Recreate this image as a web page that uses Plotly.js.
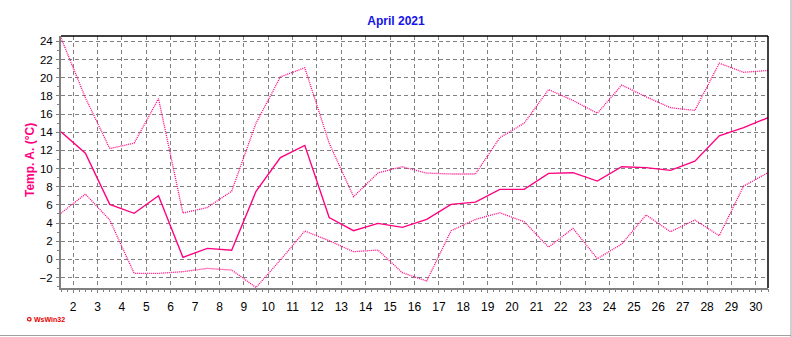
<!DOCTYPE html>
<html>
<head>
<meta charset="utf-8">
<script src="https://cdn.plot.ly/plotly-3.0.1.min.js"></script>
<style>
html,body{margin:0;padding:0;background:#fff;}
#chart{width:792px;height:337px;}
</style>
</head>
<body>
<div id="chart"></div>
<script>
// Days of April 2021 and daily temperatures (°C)
const days = [1,2,3,4,5,6,7,8,9,10,11,12,13,14,15,16,17,18,19,20,21,22,23,24,25,26,27,28,29,30];
const maxT = [24.4,17.8,12.2,12.8,17.7,5.1,5.7,7.5,15.0,20.1,21.1,12.8,6.9,9.5,10.2,9.5,9.4,9.4,13.4,15.0,18.7,17.5,16.1,19.2,17.9,16.7,16.4,21.6,20.6,20.8];
const meanT = [14.05,11.7,6.05,5.07,7.0,0.22,1.2,1.0,7.5,11.2,12.55,4.6,3.15,3.96,3.52,4.4,6.05,6.3,7.7,7.7,9.47,9.54,8.62,10.2,10.1,9.8,10.8,13.6,14.5,15.6];
const minT = [5.07,7.19,4.33,-1.55,-1.55,-1.36,-1.0,-1.18,-3.1,-0.08,3.12,2.05,0.84,1.02,-1.47,-2.39,3.15,4.4,5.13,4.14,1.34,3.41,0.07,1.68,4.88,3.04,4.33,2.6,8.07,9.54];
const xTickVals = [2,3,4,5,6,7,8,9,10,11,12,13,14,15,16,17,18,19,20,21,22,23,24,25,26,27,28,29,30];
const xTickText = xTickVals.map(String);
const yTickVals = [-2,0,2,4,6,8,10,12,14,16,18,20,22,24];

const lineColor = 'rgb(255,0,128)';
const xRange = [1.5, 30.5];
const yRange = [-3.16, 24.6];
// each day's value is drawn in the middle of its day slot
const xs = days.map(d => d + 0.5);

const traces = [
  {x: xs, y: maxT, mode: 'lines', line: {color: lineColor, width: 1.3, dash: '1px,1px'}, hoverinfo: 'skip'},
  {x: xs, y: minT, mode: 'lines', line: {color: lineColor, width: 1.3, dash: '1px,1px'}, hoverinfo: 'skip'},
  {x: xs, y: meanT, mode: 'lines', line: {color: lineColor, width: 1.4}, hoverinfo: 'skip'},
  // invisible trace carrying the minor-tick overlay axes
  {x: [xRange[0]], y: [yRange[0]], xaxis: 'x2', yaxis: 'y2', mode: 'markers', marker: {opacity: 0}, hoverinfo: 'skip'}
];

const layout = {
  width: 792, height: 337,
  margin: {l: 61, r: 24, t: 36, b: 49},
  paper_bgcolor: '#fff', plot_bgcolor: '#fff',
  showlegend: false,
  font: {family: 'Liberation Sans, Arial, sans-serif', size: 11, color: '#000'},
  title: {
    text: '<b>April 2021</b>',
    font: {family: 'Liberation Sans, Arial, sans-serif', size: 12, color: 'rgb(20,20,230)'},
    x: 0.5, xref: 'container', xanchor: 'center',
    y: 1 - 21/337, yref: 'container', yanchor: 'middle'
  },
  xaxis: {
    range: xRange, tickmode: 'array', tickvals: xTickVals, ticktext: xTickText,
    showgrid: true, gridcolor: '#808080', gridwidth: 1, griddash: '4px,3px',
    zeroline: false, showline: true, linecolor: '#808080', linewidth: 2,
    ticks: 'outside', ticklen: 3, tickcolor: '#808080', tickwidth: 1,
    tickfont: {size: 12},
    ticklabelstandoff: 4,
    fixedrange: true
  },
  yaxis: {
    range: yRange, tickmode: 'array', tickvals: yTickVals,
    showgrid: true, gridcolor: '#808080', gridwidth: 1, griddash: '4px,3px',
    zeroline: false, showline: true, linecolor: '#808080', linewidth: 2,
    ticks: 'outside', ticklen: 3, tickcolor: '#808080', tickwidth: 1,
    tickfont: {size: 11.5},
    ticklabelstandoff: 1,
    fixedrange: true
  },
  xaxis2: {
    overlaying: 'x', anchor: 'y2', side: 'bottom', range: xRange,
    tickmode: 'linear', tick0: 1.5, dtick: 0.25,
    ticks: 'outside', ticklen: 3, tickcolor: '#808080', tickwidth: 1,
    showticklabels: false, showgrid: false, zeroline: false, showline: false, fixedrange: true
  },
  yaxis2: {
    overlaying: 'y', anchor: 'x2', side: 'left', range: yRange,
    tickmode: 'linear', tick0: 0, dtick: 1,
    ticks: 'outside', ticklen: 3, tickcolor: '#808080', tickwidth: 1,
    showticklabels: false, showgrid: false, zeroline: false, showline: false, fixedrange: true
  },
  shapes: [
    {type: 'line', xref: 'paper', yref: 'paper', x0: 0, x1: 1, y0: 1, y1: 1, line: {color: '#000', width: 1.5}},
    {type: 'line', xref: 'paper', yref: 'paper', x0: 1, x1: 1, y0: 0, y1: 1, line: {color: '#000', width: 1.5}},
    {type: 'line', xref: 'paper', yref: 'paper', x0: -61/707, x1: 730/707, y0: -47.5/252, y1: -47.5/252, line: {color: '#a0a0a0', width: 1}},
    {type: 'line', xref: 'paper', yref: 'paper', x0: 730/707, x1: 730/707, y0: -49/252, y1: 36/252 + 1, line: {color: '#a0a0a0', width: 1}},
    {type: 'circle', xref: 'paper', yref: 'paper', x0: -33.5/707, x1: -30/707, y0: -29.5/252, y1: -33/252, line: {color: 'rgb(230,0,0)', width: 1.2}, fillcolor: '#fff'}
  ],
  annotations: [
    {xref: 'paper', yref: 'paper', x: -31/707, y: 0.5 + 2/252, xanchor: 'center', yanchor: 'middle', showarrow: false,
     textangle: -90, text: '<b>Temp. A. (°C)</b>', font: {family: 'Liberation Sans, Arial, sans-serif', size: 12, color: lineColor}},
    {xref: 'paper', yref: 'paper', x: -29/707, y: -31.3/252, xanchor: 'left', yanchor: 'middle', showarrow: false,
     text: '<b>WsWin32</b>', font: {family: 'Liberation Sans, Arial, sans-serif', size: 7, color: 'rgb(230,0,0)'}}
  ]
};

Plotly.newPlot('chart', traces, layout, {staticPlot: true, displayModeBar: false});
</script>
</body>
</html>
